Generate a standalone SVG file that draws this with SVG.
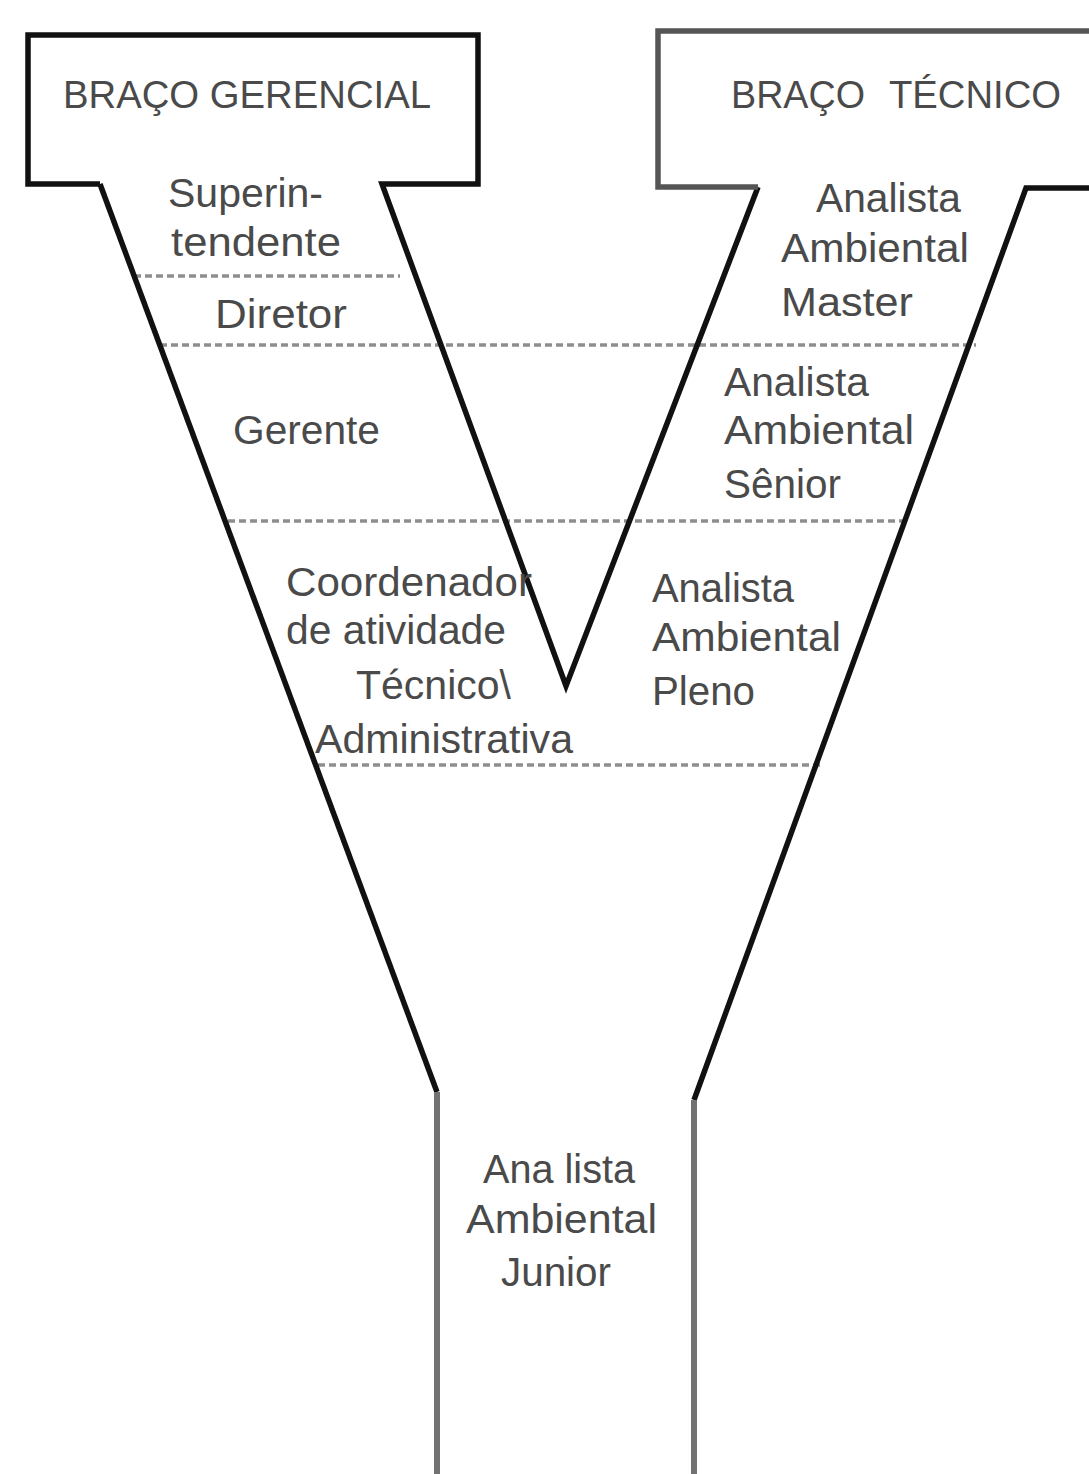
<svg xmlns="http://www.w3.org/2000/svg" width="1089" height="1474" viewBox="0 0 1089 1474">
<style>
.ln{fill:none;stroke:#111;stroke-width:5.5;stroke-linejoin:miter}
.gr{fill:none;stroke:#555;stroke-width:5.5}
.st{fill:none;stroke:#727272;stroke-width:6}
.ds{fill:none;stroke:#8e8e8e;stroke-width:3.5;stroke-dasharray:7 4}
text{font-family:"Liberation Sans",Arial,sans-serif;font-size:40px;fill:#4a4a4a}
.t{font-size:38px}
</style>
<rect width="1089" height="1474" fill="#fff"/>
<g id="connectors">
<g id="separators">
<line class="ds" x1="134" y1="276" x2="400" y2="276"/>
<line class="ds" x1="160" y1="345" x2="976" y2="345"/>
<line class="ds" x1="228" y1="521" x2="910" y2="521"/>
<line class="ds" x1="318" y1="765" x2="820" y2="765"/>
</g>
<g id="outline">
<path class="ln" d="M100,184 L28,184 L28,35 L478,35 L478,184 L382,184 L566,686 L758,187"/>
<path class="gr" d="M758,187 L658,187 L658,31 L1092,31"/>
<path class="ln" d="M1092,188 L1026,188 L694,1100"/>
<path class="ln" d="M100,184 L437,1092"/>
<path class="st" d="M437,1092 L437,1474"/>
<path class="st" d="M694,1100 L694,1474"/>
</g>
</g>
<g id="braco-gerencial">
<text class="t" x="63" y="108" textLength="368" lengthAdjust="spacingAndGlyphs">BRAÇO GERENCIAL</text>
</g>
<g id="braco-tecnico">
<text class="t" x="731" y="108" textLength="134" lengthAdjust="spacingAndGlyphs">BRAÇO</text>
<text class="t" x="889" y="108" textLength="172" lengthAdjust="spacingAndGlyphs">TÉCNICO</text>
</g>
<g id="superintendente">
<text x="168" y="207" textLength="155" lengthAdjust="spacingAndGlyphs">Superin-</text>
<text x="171" y="256" textLength="170" lengthAdjust="spacingAndGlyphs">tendente</text>
</g>
<g id="diretor">
<text x="215" y="328" textLength="132" lengthAdjust="spacingAndGlyphs">Diretor</text>
</g>
<g id="gerente">
<text x="233" y="444" textLength="147" lengthAdjust="spacingAndGlyphs">Gerente</text>
</g>
<g id="coordenador">
<text x="286" y="596" textLength="246" lengthAdjust="spacingAndGlyphs">Coordenador</text>
<text x="286" y="644" textLength="220" lengthAdjust="spacingAndGlyphs">de atividade</text>
<text x="356" y="699" textLength="155" lengthAdjust="spacingAndGlyphs">Técnico\</text>
<text x="315" y="753" textLength="258" lengthAdjust="spacingAndGlyphs">Administrativa</text>
</g>
<g id="analista-master">
<text x="816" y="212" textLength="145" lengthAdjust="spacingAndGlyphs">Analista</text>
<text x="781" y="262" textLength="188" lengthAdjust="spacingAndGlyphs">Ambiental</text>
<text x="781" y="316" textLength="132" lengthAdjust="spacingAndGlyphs">Master</text>
</g>
<g id="analista-senior">
<text x="724" y="396" textLength="145" lengthAdjust="spacingAndGlyphs">Analista</text>
<text x="724" y="444" textLength="190" lengthAdjust="spacingAndGlyphs">Ambiental</text>
<text x="724" y="498" textLength="117" lengthAdjust="spacingAndGlyphs">Sênior</text>
</g>
<g id="analista-pleno">
<text x="652" y="602" textLength="142" lengthAdjust="spacingAndGlyphs">Analista</text>
<text x="652" y="651" textLength="189" lengthAdjust="spacingAndGlyphs">Ambiental</text>
<text x="652" y="705" textLength="103" lengthAdjust="spacingAndGlyphs">Pleno</text>
</g>
<g id="analista-junior">
<text x="483" y="1183" textLength="152" lengthAdjust="spacingAndGlyphs">Ana lista</text>
<text x="466" y="1233" textLength="191" lengthAdjust="spacingAndGlyphs">Ambiental</text>
<text x="501" y="1286" textLength="110" lengthAdjust="spacingAndGlyphs">Junior</text>
</g>
</svg>
